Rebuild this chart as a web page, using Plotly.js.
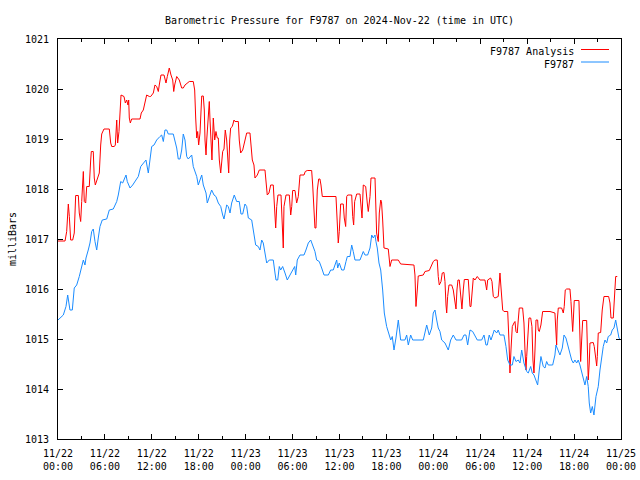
<!DOCTYPE html>
<html>
<head>
<meta charset="utf-8">
<script src="https://cdn.plot.ly/plotly-3.0.1.min.js"></script>
<style>html,body{margin:0;padding:0;background:#fff;}#chart{width:640px;height:480px;}</style>
</head>
<body>
<div id="chart"></div>
<script>
// Hours after 2024-11-22 00:00 UTC and pressure (mbar)
const stationHours = [0,0.68,1.02,1.24,1.53,1.83,2.08,2.39,2.72,3.03,3.24,3.45,3.58,3.87,4.09,4.31,4.51,4.73,4.95,5.15,5.37,5.66,6.23,6.56,7.07,7.51,7.71,8.02,8.27,8.70,8.86,9.21,9.55,9.97,10.27,10.58,10.91,11.25,11.55,11.76,11.98,12.28,12.62,13.04,13.26,13.47,13.68,13.90,14.10,14.74,14.96,15.18,15.38,15.60,15.82,16.02,16.24,16.46,16.66,17.10,17.30,17.74,17.94,18.38,18.58,18.93,19.09,19.35,19.65,19.95,20.20,20.50,20.81,21.06,21.23,21.57,21.78,22.00,22.21,22.54,22.85,23.18,23.40,23.62,23.91,24.13,24.34,24.77,25.06,25.28,25.61,25.83,26.05,26.25,26.47,26.69,27.02,27.53,27.75,27.88,28.10,28.30,28.48,28.73,29.03,29.32,29.67,30.01,30.27,30.40,30.60,30.95,31.46,31.71,32.01,32.32,32.65,32.86,33.08,33.41,33.72,34.02,34.57,34.87,35.20,35.42,35.64,35.77,35.97,36.28,36.57,36.83,37.00,37.34,37.56,37.76,37.98,38.62,39.04,39.26,39.60,39.90,40.12,40.32,40.54,40.66,40.83,41.05,41.27,41.52,41.73,42.03,42.33,42.55,42.75,42.97,43.22,43.52,43.82,44.37,44.59,44.80,45.10,45.36,46.71,46.93,47.15,47.48,47.79,47.99,48.21,48.43,48.63,48.85,49.07,49.49,49.91,50.22,50.55,50.90,51.62,51.92,52.17,52.39,52.69,53.03,53.32,53.62,54.18,54.48,54.73,54.90,55.15,55.37,55.59,55.79,56.10,56.30,56.52,57.03,57.29,57.51,57.80,58.10,58.31,58.57,58.86,59.08,59.30,59.59,59.94,60.14,60.45,60.65,60.87,61.22,61.34,61.55,61.76,62.06,62.28,62.49,62.70,63.26,63.55,63.68,63.98,64.19,64.49,64.71,64.96,65.26,65.47,65.69,65.90,66.11,66.33,66.53,66.75,66.97,67.17,67.39,67.61,67.81,67.94,68.12,68.33,68.54,68.80,69.09,69.31,69.53,69.73,69.95,70.17,70.37,70.68,70.88,71.10,71.32,71.52,71.74,71.96];
const stationValues = [1015.38,1015.48,1015.65,1015.88,1015.58,1015.58,1016.02,1016.08,1016.25,1016.48,1016.58,1016.48,1016.62,1016.78,1016.92,1017.15,1017.2,1016.95,1016.78,1017.02,1017.25,1017.38,1017.4,1017.58,1017.6,1017.75,1017.88,1018.15,1018.12,1018.28,1018.15,1018.02,1018.08,1018.18,1018.25,1018.45,1018.52,1018.58,1018.32,1018.58,1018.85,1018.88,1018.98,1019.05,1019.08,1018.95,1019.18,1019.18,1019.1,1019.1,1018.95,1018.82,1018.6,1018.6,1018.78,1019.1,1018.98,1018.65,1018.6,1018.68,1018.45,1018.25,1018.08,1018.28,1018.08,1017.92,1017.72,1017.85,1017.98,1017.88,1017.85,1017.72,1017.65,1017.48,1017.4,1017.68,1017.65,1017.52,1017.72,1017.88,1017.75,1017.75,1017.5,1017.5,1017.7,1017.65,1017.42,1017.38,1017.12,1016.88,1016.85,1016.78,1016.98,1016.92,1016.72,1016.52,1016.58,1016.58,1016.32,1016.18,1016.18,1016.45,1016.38,1016.45,1016.32,1016.18,1016.28,1016.38,1016.45,1016.28,1016.58,1016.68,1016.68,1016.78,1016.92,1016.98,1016.85,1016.75,1016.58,1016.55,1016.42,1016.28,1016.28,1016.38,1016.38,1016.48,1016.58,1016.42,1016.52,1016.38,1016.38,1016.55,1016.65,1016.65,1016.88,1016.75,1016.58,1016.58,1016.75,1016.68,1016.68,1016.82,1017.08,1017.02,1017.08,1016.95,1016.82,1016.52,1016.38,1015.98,1015.52,1015.25,1015.08,1014.98,1015.05,1014.78,1015.02,1015.38,1014.98,1014.98,1015.08,1014.88,1015.08,1014.98,1014.98,1015.12,1015.28,1015.08,1015.22,1015.52,1015.58,1015.38,1015.22,1015.15,1014.98,1014.92,1014.78,1014.98,1015.08,1014.98,1014.98,1015.08,1015.08,1014.88,1015.18,1015.15,1015.08,1014.98,1014.98,1015.08,1014.88,1014.88,1015.08,1014.98,1015.08,1015.18,1015.12,1015.18,1015.08,1015.08,1014.85,1014.58,1014.48,1014.48,1014.65,1014.55,1014.58,1014.52,1014.78,1014.52,1014.35,1014.32,1014.45,1014.32,1014.28,1014.12,1014.08,1014.38,1014.65,1014.45,1014.42,1014.55,1014.48,1014.48,1014.68,1014.88,1014.75,1014.68,1014.82,1015.08,1015.02,1014.85,1014.72,1014.58,1014.52,1014.58,1014.52,1014.58,1014.48,1014.32,1014.18,1014.08,1014.25,1014.05,1013.72,1013.52,1013.65,1013.48,1013.85,1014.05,1014.38,1014.65,1014.85,1014.98,1014.92,1015.05,1015.08,1015.18,1015.22,1015.38,1015.18,1015.02,1014.98];

const analysisHours = [0,0.90,1.11,1.32,1.45,1.62,1.88,2.08,2.26,2.60,2.72,2.90,3.03,3.24,3.36,3.54,3.67,4.00,4.18,4.26,4.51,4.64,4.77,4.95,5.15,5.28,5.46,5.59,5.88,6.56,6.74,6.87,7.20,7.33,7.51,7.63,7.80,7.93,8.06,8.44,8.61,8.79,8.95,9.04,9.12,9.25,9.42,10.49,10.65,10.91,11.13,11.34,11.68,11.85,12.19,12.40,12.62,12.83,12.95,13.17,13.56,13.81,13.98,14.23,14.45,14.67,14.80,14.92,15.18,15.51,15.82,16.02,16.24,16.53,16.79,17.30,17.48,17.61,17.74,17.86,17.99,18.16,18.38,18.58,18.71,18.80,18.93,19.02,19.22,19.35,19.44,19.57,19.69,19.86,20.04,20.20,20.37,20.50,20.63,20.81,20.93,21.06,21.23,21.39,21.57,21.70,21.83,21.96,22.08,22.29,22.51,22.63,23.06,23.18,23.36,23.62,23.91,24.13,24.55,24.68,24.85,25.06,25.19,25.49,25.74,26.47,26.60,26.76,26.98,27.20,27.53,27.66,27.84,27.97,28.13,28.52,28.68,28.81,28.90,29.16,29.58,29.76,29.89,30.01,30.31,30.52,30.73,30.95,31.46,31.62,31.88,32.44,32.57,32.74,32.86,32.99,33.16,33.34,33.50,33.63,33.80,35.55,35.72,35.84,35.97,36.15,36.48,36.61,36.79,36.92,37.05,37.56,37.69,37.81,37.94,38.20,38.62,38.75,38.88,39.04,39.35,39.55,39.68,39.90,40.03,40.54,40.66,40.75,40.96,41.09,41.27,41.37,41.52,41.69,42.24,42.46,42.67,43.52,43.82,44.80,45.52,45.65,45.78,45.95,46.07,46.71,46.93,47.48,47.79,47.99,48.21,48.50,48.63,48.76,48.98,49.14,49.36,49.49,49.62,49.71,49.83,50.00,50.35,50.55,50.73,50.90,51.02,51.15,51.32,51.50,51.66,51.83,51.96,52.47,52.69,52.81,52.94,53.11,53.32,53.62,53.96,54.60,54.82,54.95,55.33,55.50,55.67,55.88,56.30,56.52,56.61,56.74,56.87,57.03,57.51,57.67,57.80,57.93,58.10,58.31,58.44,58.57,58.73,58.86,58.99,59.42,59.59,59.72,59.85,59.94,60.06,60.23,60.45,60.61,60.74,60.87,61.00,61.13,61.34,61.42,61.55,61.76,61.98,62.92,63.55,63.68,63.77,63.85,63.98,64.41,64.62,64.74,64.87,65.05,65.47,65.60,65.73,65.82,65.90,66.02,66.62,66.75,66.84,66.97,67.10,67.61,67.69,67.81,67.94,68.03,68.45,68.58,68.80,68.89,68.97,69.09,69.40,69.60,69.82,70.42,70.59,70.72,71.01,71.14,71.32,71.52];
const analysisValues = [1016.96,1016.96,1017.15,1017.7,1017.45,1016.98,1016.98,1017.12,1017.87,1017.87,1017.52,1017.35,1017.75,1018.35,1017.75,1017.72,1018.05,1018.05,1018.58,1018.75,1018.75,1018.22,1018.08,1018.18,1018.25,1018.32,1018.88,1019.1,1019.2,1019.2,1018.92,1018.85,1018.85,1018.88,1019.38,1018.92,1019.15,1019.62,1019.88,1019.85,1019.72,1019.78,1019.68,1019.78,1019.42,1019.32,1019.4,1019.4,1019.52,1019.58,1019.77,1019.88,1019.85,1019.85,1019.92,1020.08,1020.05,1019.95,1020.08,1020.28,1020.28,1020.12,1020.25,1020.42,1020.28,1020.18,1019.95,1020.08,1020.25,1020.18,1020.02,1020.02,1020.08,1020.12,1020.15,1020.15,1019.98,1019.42,1019.02,1019.15,1018.88,1019.12,1019.86,1019.86,1019.58,1018.98,1018.68,1018.98,1019.52,1019.75,1019.38,1018.98,1018.58,1019.42,1018.98,1019.15,1019.02,1019.02,1018.58,1018.32,1018.55,1018.75,1018.8,1019.18,1018.98,1018.55,1018.32,1018.98,1019.22,1019.25,1019.38,1019.35,1019.35,1018.98,1018.72,1018.78,1018.98,1019.12,1019.12,1018.78,1018.58,1018.48,1018.22,1018.28,1018.38,1018.38,1018.08,1017.88,1017.92,1018.08,1018.08,1017.65,1017.22,1017.65,1017.88,1017.88,1017.08,1016.82,1017.65,1017.88,1017.88,1017.48,1017.65,1017.97,1017.97,1017.72,1017.85,1018.28,1018.28,1018.35,1018.37,1018.37,1018.08,1017.48,1017.22,1017.22,1017.98,1018.2,1018.2,1018.08,1017.85,1017.85,1017.25,1016.92,1017.15,1017.7,1017.7,1017.42,1017.25,1017.85,1017.88,1017.88,1017.45,1017.28,1017.75,1017.9,1017.9,1017.55,1017.42,1018.08,1018.05,1017.72,1017.55,1017.85,1018.22,1018.22,1017.58,1017.12,1016.95,1017.52,1017.78,1017.75,1017.38,1016.82,1016.8,1016.45,1016.58,1016.58,1016.5,1016.48,1016.48,1016.28,1015.65,1015.98,1016.26,1016.28,1016.35,1016.37,1016.46,1016.55,1016.58,1016.58,1016.25,1016.08,1016.15,1016.32,1016.33,1016.15,1015.68,1015.52,1015.85,1016.08,1016.08,1015.98,1015.78,1015.6,1015.98,1016.18,1016.18,1015.78,1015.6,1015.98,1016.19,1016.19,1015.65,1015.65,1015.98,1016.22,1016.18,1016.25,1016.18,1016.18,1015.98,1016.18,1016.22,1016.15,1015.85,1015.82,1015.85,1016.32,1016.12,1015.78,1015.58,1015.55,1015.55,1014.98,1014.32,1014.78,1015.25,1015.32,1015.35,1015.15,1015.12,1015.38,1015.62,1015.62,1015.32,1014.78,1014.38,1014.65,1015.05,1015.42,1015.42,1015.25,1014.58,1014.32,1014.78,1015.38,1015.38,1015.18,1015.15,1015.28,1015.55,1015.55,1015.52,1015.18,1014.88,1015.38,1015.62,1015.62,1015.52,1015.65,1015.98,1016.0,1016.0,1015.75,1015.38,1015.15,1015.38,1015.77,1015.77,1015.25,1014.55,1014.98,1015.37,1015.37,1014.65,1014.18,1014.52,1014.92,1014.93,1014.85,1014.58,1014.46,1014.65,1015.12,1015.13,1015.58,1015.85,1015.85,1015.72,1015.42,1015.42,1015.85,1016.25,1016.25];

const tickHours = [0,6,12,18,24,30,36,42,48,54,60,66,72];
const tickLabels = ['11/22<br>00:00','11/22<br>06:00','11/22<br>12:00','11/22<br>18:00','11/23<br>00:00','11/23<br>06:00','11/23<br>12:00','11/23<br>18:00','11/24<br>00:00','11/24<br>06:00','11/24<br>12:00','11/24<br>18:00','11/25<br>00:00'];
const seriesNames = ['F9787 Analysis','F9787'];
const seriesColors = ['#ff0000','#1a8cff'];

const base = Date.UTC(2024,10,22,0,0,0);
const H = 3600000;
const toMs = h => base + h*H;
const FONT = 'DejaVu Sans Mono, monospace';

const traces = [
  {x: analysisHours.map(toMs), y: analysisValues, type:'scatter', mode:'lines', name: seriesNames[0],
   line:{color: seriesColors[0], width:1}},
  {x: stationHours.map(toMs), y: stationValues, type:'scatter', mode:'lines', name: seriesNames[1],
   line:{color: seriesColors[1], width:1}}
];

const L = 58, R = 19, T = 39, B = 41, W = 640, Hh = 480;
const pw = W-L-R, ph = Hh-T-B;
const px = x => (x-L)/pw;
const py = y => (Hh-B-y)/ph;

const layout = {
  width: W, height: Hh,
  margin:{l:L, r:R, t:T, b:B, pad:0},
  paper_bgcolor:'#ffffff', plot_bgcolor:'#ffffff',
  font:{family: FONT, size:10, color:'#000'},
  showlegend:false,
  title:{text:'Barometric Pressure for F9787 on 2024-Nov-22 (time in UTC)', font:{family:FONT,size:10,color:'#000'},
         x:0.5, xref:'paper', y:1-20/480, yref:'container', yanchor:'middle'},
  xaxis:{type:'date', range:[toMs(0), toMs(72)], autorange:false,
         tickmode:'array', tickvals: tickHours.map(toMs), ticktext: tickLabels,
         ticks:'inside', ticklen:5, tickwidth:1, tickcolor:'#000',
         minor:{dtick:3*H, tick0: toMs(0), ticks:'inside', ticklen:3, tickwidth:1, tickcolor:'#000', showgrid:false},
         showline:true, linecolor:'#000', linewidth:1, mirror:'allticks',
         showgrid:false, zeroline:false, ticklabelstandoff:5,
         tickfont:{family:FONT,size:10,color:'#000'}},
  yaxis:{range:[1013,1021], autorange:false, dtick:1, tick0:1013,
         ticks:'inside', ticklen:5, tickwidth:1, tickcolor:'#000',
         showline:true, linecolor:'#000', linewidth:1, mirror:'allticks',
         showgrid:false, zeroline:false, ticklabelstandoff:6,
         tickfont:{family:FONT,size:10,color:'#000'},
         title:{text:'milliBars', font:{family:FONT,size:10,color:'#000'}, standoff:6}},
  annotations:[
    {text: seriesNames[0], xref:'paper', yref:'paper', x:px(576), y:py(51.5), xanchor:'right', yanchor:'middle', showarrow:false, font:{family:FONT,size:10,color:'#000'}},
    {text: seriesNames[1], xref:'paper', yref:'paper', x:px(576), y:py(64), xanchor:'right', yanchor:'middle', showarrow:false, font:{family:FONT,size:10,color:'#000'}}
  ],
  shapes:[
    {type:'line', xref:'paper', yref:'paper', x0:px(581), x1:px(609), y0:py(49.5), y1:py(49.5), line:{color:seriesColors[0], width:1}},
    {type:'line', xref:'paper', yref:'paper', x0:px(581), x1:px(609), y0:py(62), y1:py(62), line:{color:seriesColors[1], width:1}}
  ]
};

Plotly.newPlot('chart', traces, layout, {staticPlot:true, displayModeBar:false});
</script>
</body>
</html>
